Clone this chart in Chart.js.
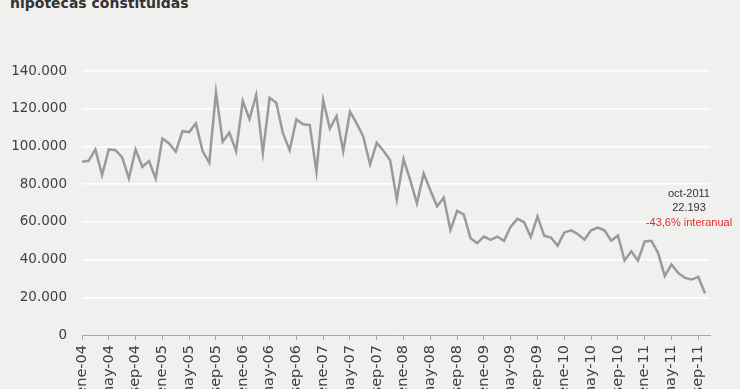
<!DOCTYPE html>
<html>
<head>
<meta charset="utf-8">
<script src="https://cdn.jsdelivr.net/npm/chart.js@4/dist/chart.umd.min.js"></script>
<style>
  html, body { margin: 0; padding: 0; background: #f0f0ee; overflow: hidden; }
  #wrap { position: relative; width: 740px; height: 389px; }
  #title {
    position: absolute; left: 10px; top: -4px;
    font: bold 14px "DejaVu Sans", sans-serif; line-height: 14px;
    color: #333; white-space: nowrap;
  }
  canvas { position: absolute; left: 0; top: 0; }
</style>
</head>
<body>
<div id="wrap">
  <div id="title">hipotecas constituidas</div>
  <canvas id="lineChart" width="740" height="389"></canvas>
</div>
<script>
// meses ene-2004 .. oct-2011
var monthNames = ['ene', 'feb', 'mar', 'abr', 'may', 'jun', 'jul', 'ago', 'sep', 'oct', 'nov', 'dic'];
var years = ['04', '05', '06', '07', '08', '09', '10', '11'];

var hipotecas2004 = [91900, 92400, 98400, 84800, 98400, 98000, 94200, 83000, 98400, 89200, 92200, 83000];
var hipotecas2005 = [104200, 101600, 97200, 108100, 107600, 112200, 97500, 91300, 128700, 102500, 107300, 97500];
var hipotecas2006 = [124100, 114500, 127300, 96600, 125800, 123200, 106900, 98000, 114300, 111700, 111300, 86600];
var hipotecas2007 = [124600, 109500, 116100, 97500, 118400, 112200, 105100, 90400, 101900, 97700, 92700, 71900];
var hipotecas2008 = [93300, 82100, 69800, 85700, 76800, 68300, 72800, 55600, 65900, 63800, 51300, 48700];
var hipotecas2009 = [52200, 50500, 52200, 49900, 57500, 61600, 59800, 51900, 62900, 52600, 51700, 47400];
var hipotecas2010 = [54400, 55500, 53600, 50500, 55500, 57000, 55500, 50000, 52800, 39500, 44400, 39500];
var hipotecas2011 = [49600, 50000, 43500, 31200, 37400, 32900, 30300, 29400, 30800, 22193];

var yTicks = [0, 20000, 40000, 60000, 80000, 100000, 120000, 140000];

var annotationLines = ['oct-2011', '22.193', '-43,6% interanual'];

var values = [].concat(hipotecas2004, hipotecas2005, hipotecas2006, hipotecas2007,
    hipotecas2008, hipotecas2009, hipotecas2010, hipotecas2011);

var categories = [];
years.forEach(function (y) {
    monthNames.forEach(function (m) { categories.push(m + '-' + y); });
});
categories = categories.slice(0, values.length);

var points = values.map(function (v, i) { return { x: i, y: v }; });

function miles(v) {
    return String(v).replace(/\B(?=(\d{3})+(?!\d))/g, '.');
}

var annotationPlugin = {
    id: 'lastLabel',
    afterDatasetsDraw: function (chart) {
        var ctx = chart.ctx;
        var xs = chart.scales.x, ys = chart.scales.y;
        var cx = xs.getPixelForValue(values.length - 1) - 16;
        var cy = ys.getPixelForValue(75000);
        ctx.save();
        ctx.font = '11px "Liberation Sans", Arial, sans-serif';
        ctx.textAlign = 'center';
        ctx.textBaseline = 'middle';
        ctx.fillStyle = '#333';
        ctx.fillText(annotationLines[0], cx, cy);
        ctx.fillText(annotationLines[1], cx, cy + 14.5);
        ctx.fillStyle = '#e32b2b';
        ctx.fillText(annotationLines[2], cx, cy + 29);
        ctx.restore();
    }
};

document.addEventListener('DOMContentLoaded', function () {
    var ctx = document.getElementById('lineChart').getContext('2d');
    new Chart(ctx, {
        type: 'line',
        data: {
            datasets: [{
                label: 'hipotecas constituidas',
                data: points,
                borderColor: '#9a9a9a',
                borderWidth: 2.5,
                pointRadius: 0,
                tension: 0,
                fill: false
            }]
        },
        options: {
            responsive: false,
            animation: false,
            devicePixelRatio: 1,
            layout: { padding: { top: 71, right: 30, bottom: 0, left: 0 } },
            plugins: {
                legend: { display: false },
                tooltip: { enabled: false }
            },
            scales: {
                x: {
                    type: 'linear',
                    min: 0,
                    max: 93.75,
                    afterFit: function (scale) { scale.height = 54; },
                    border: { display: true, color: '#a8a8a8', width: 1 },
                    grid: {
                        drawOnChartArea: false,
                        drawTicks: true,
                        tickLength: 5,
                        color: '#a8a8a8',
                        tickColor: '#a8a8a8'
                    },
                    ticks: {
                        stepSize: 4,
                        includeBounds: false,
                        autoSkip: false,
                        maxTicksLimit: 40,
                        minRotation: 90,
                        maxRotation: 90,
                        padding: 5,
                        color: '#404040',
                        font: { family: '"DejaVu Sans", Verdana, sans-serif', size: 14.5 },
                        callback: function (v) { return categories[v]; }
                    }
                },
                y: {
                    min: 0,
                    max: 140000,
                    afterFit: function (scale) { scale.width = 82; },
                    afterBuildTicks: function (scale) {
                        scale.ticks = yTicks.map(function (v) { return { value: v }; });
                    },
                    border: { display: false },
                    grid: {
                        drawTicks: false,
                        lineWidth: 1.5,
                        color: function (c) { return c.tick && c.tick.value === 0 ? 'rgba(0,0,0,0)' : '#ffffff'; }
                    },
                    ticks: {
                        padding: 15,
                        color: '#404040',
                        font: { family: '"DejaVu Sans", Verdana, sans-serif', size: 13.5 },
                        callback: function (v) { return miles(v); }
                    }
                }
            }
        },
        plugins: [annotationPlugin]
    });
});
</script>
</body>
</html>
